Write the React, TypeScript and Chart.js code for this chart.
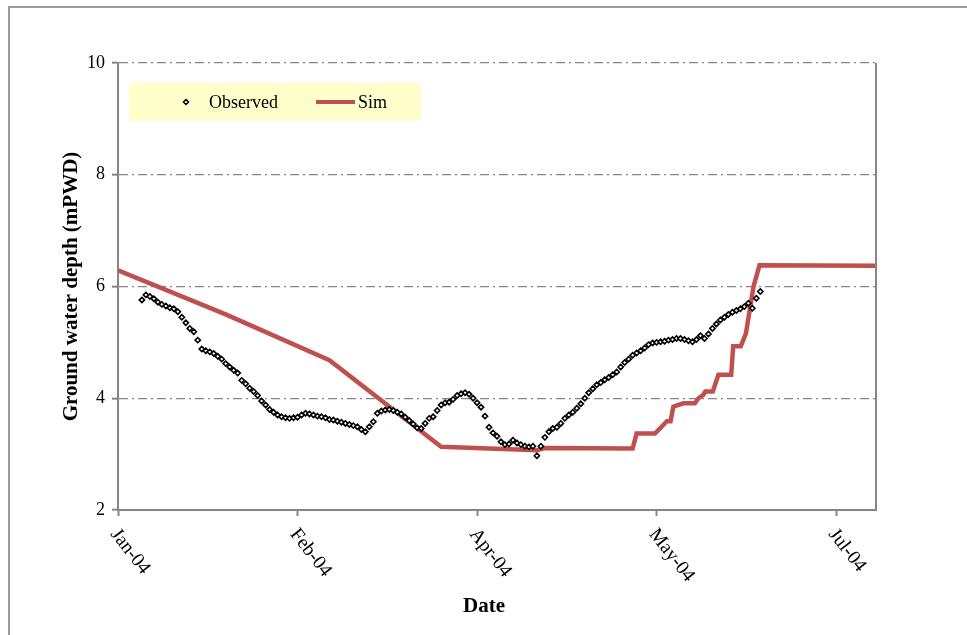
import React, { useEffect, useRef } from "react";
import { Chart, registerables } from "chart.js";

Chart.register(...registerables);

// X axis: days counted from the axis origin (early January 2004)
const tickDays = [0, 45, 90, 135, 180];
const tickLabels = ["Jan-04", "Feb-04", "Apr-04", "May-04", "Jul-04"];
const xMax = 190;
const yTicks = [2, 4, 6, 8, 10];

const obsDays = [
  6, 7, 8, 9, 10, 11, 12, 13, 14, 15, 16, 17, 18, 19, 20, 21, 22, 23, 24, 25,
  26, 27, 28, 29, 30, 31, 32, 33, 34, 35, 36, 37, 38, 39, 40, 41, 42, 43, 44, 45,
  46, 47, 48, 49, 50, 51, 52, 53, 54, 55, 56, 57, 58, 59, 60, 61, 62, 63, 64, 65,
  66, 67, 68, 69, 70, 71, 72, 73, 74, 75, 76, 77, 78, 79, 80, 81, 82, 83, 84, 85,
  86, 87, 88, 89, 90, 91, 92, 93, 94, 95, 96, 97, 98, 99, 100, 101, 102, 103, 104, 105,
  106, 107, 108, 109, 110, 111, 112, 113, 114, 115, 116, 117, 118, 119, 120, 121, 122, 123, 124, 125,
  126, 127, 128, 129, 130, 131, 132, 133, 134, 135, 136, 137, 138, 139, 140, 141, 142, 143, 144, 145,
  146, 147, 148, 149, 150, 151, 152, 153, 154, 155, 156, 157, 158, 159, 160, 161,
];
const obsDepth = [
  5.76, 5.85, 5.82, 5.78, 5.72, 5.68, 5.65, 5.62, 5.6, 5.55, 5.45, 5.35, 5.25, 5.19, 5.04, 4.88, 4.85, 4.83, 4.8, 4.75,
  4.7, 4.62, 4.56, 4.5, 4.45, 4.32, 4.26, 4.18, 4.12, 4.05, 3.95, 3.88, 3.8, 3.75, 3.7, 3.67, 3.65, 3.64, 3.65, 3.66,
  3.7, 3.73, 3.72, 3.7, 3.68, 3.67, 3.65, 3.62, 3.61, 3.59, 3.57, 3.55, 3.53, 3.51, 3.49, 3.44, 3.4, 3.49, 3.58, 3.73,
  3.77, 3.79, 3.8, 3.78, 3.75, 3.72, 3.66, 3.6, 3.54, 3.47, 3.46, 3.55, 3.64, 3.67, 3.78, 3.88, 3.92, 3.93, 3.98, 4.05,
  4.08, 4.1, 4.07, 4.0, 3.92, 3.84, 3.68, 3.48, 3.38, 3.32, 3.22, 3.17, 3.18, 3.25, 3.2, 3.17, 3.14, 3.13, 3.14, 2.97,
  3.14, 3.3, 3.4, 3.46, 3.48, 3.55, 3.64, 3.7, 3.75, 3.82, 3.9, 4.0, 4.1, 4.17, 4.24, 4.28, 4.33, 4.37, 4.42, 4.47,
  4.56, 4.64, 4.7, 4.77, 4.81, 4.85, 4.9, 4.96, 4.99, 5.0, 5.01, 5.02, 5.04, 5.05, 5.07, 5.07, 5.05, 5.03, 5.01, 5.05,
  5.12, 5.07, 5.15, 5.25, 5.33, 5.4, 5.45, 5.5, 5.54, 5.57, 5.6, 5.64, 5.7, 5.61, 5.79, 5.91,
];

const simDays = [
  0, 27, 53, 81, 105, 107, 129, 130, 134.6, 137.6, 138.5, 139.2, 141.7, 144.6, 145.5, 146.7, 147.2, 149.1,
  150.5, 153.7, 154.2, 156.1, 157.4, 159.3, 160.8, 190,
];
const simDepth = [
  6.29, 5.5, 4.68, 3.13, 3.07, 3.11, 3.1, 3.37, 3.37, 3.59, 3.59, 3.85, 3.91, 3.91, 4.0, 4.06, 4.12, 4.12,
  4.42, 4.42, 4.93, 4.93, 5.16, 6.0, 6.38, 6.37,
];

const SERIF = "'Liberation Serif', 'Times New Roman', serif";
const SIM_COLOR = "#C0504D";
const AXIS_GRAY = "#868686";

function drawDiamond(ctx: CanvasRenderingContext2D, x: number, y: number, r: number) {
  ctx.beginPath();
  ctx.moveTo(x, y - r);
  ctx.lineTo(x + r, y);
  ctx.lineTo(x, y + r);
  ctx.lineTo(x - r, y);
  ctx.closePath();
  ctx.fillStyle = "#ffffff";
  ctx.fill();
  ctx.lineWidth = 1.5;
  ctx.strokeStyle = "#000000";
  ctx.stroke();
}

const decorPlugin = {
  id: "decor",
  beforeDraw(chart: any) {
    const ctx = chart.ctx as CanvasRenderingContext2D;
    ctx.save();
    ctx.fillStyle = "#ffffff";
    ctx.fillRect(0, 0, chart.width, chart.height);
    ctx.fillStyle = "#9b9b9b";
    ctx.fillRect(8, 6, chart.width - 8, 2);
    ctx.fillRect(8, 6, 2, chart.height - 6);
    ctx.restore();
  },
  afterDraw(chart: any) {
    const ctx = chart.ctx as CanvasRenderingContext2D;
    const area = chart.chartArea;
    const xs = chart.scales.x;
    ctx.save();
    // right frame of plot area
    ctx.strokeStyle = AXIS_GRAY;
    ctx.lineWidth = 2;
    ctx.beginPath();
    ctx.moveTo(area.right, area.top);
    ctx.lineTo(area.right, area.bottom);
    ctx.stroke();

    // rotated x tick labels
    ctx.fillStyle = "#000000";
    ctx.font = `19.5px ${SERIF}`;
    ctx.textAlign = "left";
    ctx.textBaseline = "middle";
    const ang = (52 * Math.PI) / 180;
    tickDays.forEach((d, i) => {
      const px = xs.getPixelForValue(d);
      ctx.save();
      ctx.translate(px - 4, area.bottom + 21);
      ctx.rotate(ang);
      ctx.fillText(tickLabels[i], 0, 0);
      ctx.restore();
    });

    // x title
    ctx.font = `bold 21px ${SERIF}`;
    ctx.textAlign = "center";
    ctx.fillText("Date", 484, 607);

    // legend
    ctx.fillStyle = "#FFFFCC";
    ctx.fillRect(129, 83, 292, 38);
    drawDiamond(ctx, 186, 102, 2.5);
    ctx.fillStyle = "#000000";
    ctx.font = `18px ${SERIF}`;
    ctx.textAlign = "left";
    ctx.textBaseline = "middle";
    ctx.fillText("Observed", 209, 103);
    ctx.strokeStyle = SIM_COLOR;
    ctx.lineWidth = 4;
    ctx.beginPath();
    ctx.moveTo(316, 102);
    ctx.lineTo(355, 102);
    ctx.stroke();
    ctx.fillText("Sim", 358, 103);
    ctx.restore();
  },
};

export default function App() {
  const ref = useRef<HTMLCanvasElement | null>(null);

  useEffect(() => {
    if (!ref.current) return;
    const observed = obsDays.map((d, i) => ({ x: d, y: obsDepth[i] }));
    const sim = simDays.map((d, i) => ({ x: d, y: simDepth[i] }));
    const chart = new Chart(ref.current, {
      type: "line",
      data: {
        datasets: [
          {
            label: "Observed",
            data: observed,
            showLine: false,
            pointStyle: "rectRot",
            pointRadius: 2.6,
            pointBorderWidth: 1.6,
            pointBorderColor: "#000000",
            pointBackgroundColor: "#ffffff",
            order: 0,
          },
          {
            label: "Sim",
            data: sim,
            borderColor: SIM_COLOR,
            borderWidth: 4.5,
            pointRadius: 0,
            tension: 0,
            fill: false,
            order: 1,
          },
        ],
      },
      options: {
        responsive: false,
        animation: false,
        events: [],
        layout: { padding: { left: 0, top: 63, right: 91, bottom: 0 } },
        plugins: {
          legend: { display: false },
          tooltip: { enabled: false },
        },
        scales: {
          x: {
            type: "linear",
            min: 0,
            max: xMax,
            afterFit: (s: any) => {
              s.height = 125;
            },
            afterBuildTicks: (s: any) => {
              s.ticks = tickDays.map((v) => ({ value: v }));
            },
            ticks: { display: false },
            grid: {
              drawOnChartArea: false,
              drawTicks: true,
              tickLength: 6,
              tickColor: AXIS_GRAY,
              tickWidth: 2,
            },
            border: { display: true, color: AXIS_GRAY, width: 2 },
          },
          y: {
            type: "linear",
            min: 2,
            max: 10,
            afterFit: (s: any) => {
              s.width = 118;
            },
            afterBuildTicks: (s: any) => {
              s.ticks = yTicks.map((v) => ({ value: v }));
            },
            ticks: {
              color: "#000000",
              font: { family: SERIF, size: 18 },
              padding: 7,
            },
            grid: {
              color: (c: any) => (c.tick && c.tick.value === 2 ? "rgba(0,0,0,0)" : AXIS_GRAY),
              lineWidth: 1.3,
              drawTicks: true,
              tickLength: 6,
              tickColor: AXIS_GRAY,
              tickWidth: 2,
              tickBorderDash: [],
            },
            border: { display: true, color: AXIS_GRAY, width: 2, dash: [9, 4, 2, 4] },
            title: {
              display: true,
              text: "Ground water depth (mPWD)",
              color: "#000000",
              font: { family: SERIF, size: 21, weight: "bold" },
              padding: { top: 59, bottom: 0 },
            },
          },
        },
      },
      plugins: [decorPlugin],
    });
    return () => chart.destroy();
  }, []);

  return (
    <div style={{ position: "absolute", left: 0, top: 0, width: 967, height: 635 }}>
      <canvas ref={ref} width={967} height={635} style={{ display: "block" }} />
    </div>
  );
}
